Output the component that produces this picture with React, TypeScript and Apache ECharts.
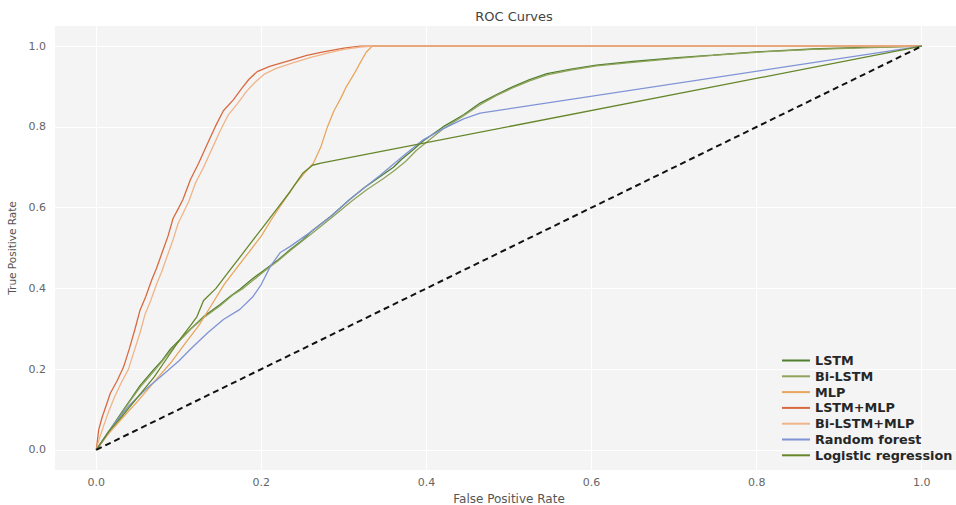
import React, { useEffect, useRef } from "react";
import * as echarts from "echarts";

const tickValues = [0, 0.2, 0.4, 0.6, 0.8, 1.0];

const seriesNames = [
  "LSTM",
  "Bi-LSTM",
  "MLP",
  "LSTM+MLP",
  "Bi-LSTM+MLP",
  "Random forest",
  "Logistic regression",
];

const lstm: number[][] = [
  [0, 0], [0.01, 0.03], [0.02, 0.06], [0.03, 0.09], [0.04, 0.12], [0.053, 0.159], [0.07, 0.2],
  [0.08, 0.222], [0.09, 0.25], [0.1, 0.27], [0.114, 0.299], [0.13, 0.33], [0.15, 0.36],
  [0.162, 0.38], [0.174, 0.398], [0.19, 0.425], [0.2, 0.44], [0.22, 0.47], [0.235, 0.496],
  [0.25, 0.52], [0.26, 0.54], [0.285, 0.58], [0.307, 0.62], [0.325, 0.65], [0.344, 0.677],
  [0.36, 0.70], [0.37, 0.72], [0.385, 0.745], [0.396, 0.765], [0.42, 0.8], [0.445, 0.83],
  [0.465, 0.859], [0.485, 0.88], [0.505, 0.9], [0.525, 0.917], [0.546, 0.932], [0.575, 0.943],
  [0.606, 0.953], [0.65, 0.962], [0.7, 0.971], [0.747, 0.978], [0.8, 0.986], [0.868, 0.993],
  [0.93, 0.997], [1, 1],
];

const biLstm: number[][] = [
  [0, 0], [0.01, 0.028], [0.02, 0.058], [0.03, 0.088], [0.04, 0.118], [0.055, 0.16], [0.07, 0.195],
  [0.08, 0.22], [0.09, 0.245], [0.1, 0.268], [0.115, 0.3], [0.13, 0.327], [0.15, 0.357],
  [0.165, 0.383], [0.178, 0.4], [0.19, 0.42], [0.205, 0.445], [0.22, 0.468], [0.237, 0.497],
  [0.25, 0.518], [0.265, 0.542], [0.288, 0.58], [0.31, 0.617], [0.328, 0.645], [0.348, 0.672],
  [0.362, 0.693], [0.375, 0.715], [0.388, 0.742], [0.4, 0.762], [0.42, 0.795], [0.445, 0.828],
  [0.465, 0.855], [0.485, 0.878], [0.505, 0.897], [0.525, 0.914], [0.546, 0.929], [0.575, 0.941],
  [0.606, 0.951], [0.65, 0.96], [0.7, 0.969], [0.747, 0.977], [0.8, 0.985], [0.868, 0.992],
  [0.93, 0.996], [1, 1],
];

const mlp: number[][] = [
  [0, 0], [0.015, 0.04], [0.03, 0.075], [0.05, 0.12], [0.073, 0.175], [0.09, 0.215], [0.11, 0.27],
  [0.125, 0.31], [0.14, 0.36], [0.155, 0.41], [0.17, 0.45], [0.185, 0.49], [0.2, 0.53],
  [0.212, 0.57], [0.225, 0.61], [0.24, 0.655], [0.252, 0.685], [0.263, 0.71], [0.272, 0.75],
  [0.28, 0.8], [0.288, 0.84], [0.296, 0.87], [0.303, 0.9], [0.312, 0.93], [0.32, 0.96],
  [0.327, 0.985], [0.334, 1.0], [1, 1],
];

const lstmMlp: number[][] = [
  [0, 0], [0.003, 0.05], [0.007, 0.08], [0.012, 0.11], [0.017, 0.14], [0.025, 0.17],
  [0.033, 0.205], [0.04, 0.25], [0.047, 0.3], [0.053, 0.346], [0.06, 0.38], [0.067, 0.42],
  [0.073, 0.45], [0.08, 0.49], [0.087, 0.53], [0.093, 0.573], [0.1, 0.6], [0.105, 0.62],
  [0.114, 0.669], [0.124, 0.71], [0.134, 0.755], [0.144, 0.8], [0.154, 0.84], [0.166, 0.867],
  [0.176, 0.895], [0.185, 0.918], [0.195, 0.937], [0.21, 0.95], [0.235, 0.965], [0.255, 0.977],
  [0.275, 0.986], [0.3, 0.995], [0.32, 1.0], [0.335, 1.0], [1, 1],
];

const biLstmMlp: number[][] = [
  [0, 0], [0.004, 0.03], [0.009, 0.06], [0.015, 0.095], [0.022, 0.13], [0.03, 0.165],
  [0.039, 0.2], [0.046, 0.245], [0.053, 0.29], [0.059, 0.335], [0.066, 0.37], [0.073, 0.41],
  [0.079, 0.44], [0.086, 0.48], [0.093, 0.52], [0.099, 0.56], [0.106, 0.59], [0.112, 0.615],
  [0.12, 0.66], [0.13, 0.7], [0.14, 0.745], [0.15, 0.79], [0.16, 0.83], [0.172, 0.86],
  [0.182, 0.888], [0.192, 0.91], [0.203, 0.93], [0.218, 0.945], [0.24, 0.96], [0.26, 0.972],
  [0.28, 0.983], [0.3, 0.992], [0.32, 0.998], [0.335, 1.0], [1, 1],
];

const randomForest: number[][] = [
  [0, 0], [0.02, 0.06], [0.04, 0.11], [0.06, 0.15], [0.08, 0.185], [0.1, 0.22], [0.114, 0.249],
  [0.135, 0.29], [0.154, 0.323], [0.174, 0.348], [0.19, 0.38], [0.2, 0.41], [0.211, 0.455],
  [0.223, 0.489], [0.235, 0.504], [0.26, 0.54], [0.285, 0.58], [0.307, 0.62], [0.325, 0.65],
  [0.344, 0.68], [0.37, 0.725], [0.396, 0.768], [0.42, 0.795], [0.445, 0.82], [0.465, 0.834],
  [1, 1],
];

const logisticRegression: number[][] = [
  [0, 0], [0.015, 0.045], [0.03, 0.08], [0.05, 0.13], [0.07, 0.18], [0.085, 0.225], [0.1, 0.27],
  [0.115, 0.31], [0.122, 0.33], [0.13, 0.37], [0.145, 0.4], [0.16, 0.44], [0.175, 0.48],
  [0.19, 0.52], [0.205, 0.56], [0.22, 0.6], [0.235, 0.64], [0.25, 0.685], [0.262, 0.705],
  [0.272, 0.71], [1, 1],
];

const chance: number[][] = [[0, 0], [1, 1]];

const seriesData = [lstm, biLstm, mlp, lstmMlp, biLstmMlp, randomForest, logisticRegression];
const seriesColors = ["#4f7f2f", "#8fa35a", "#e8a65c", "#d8693f", "#f0b488", "#7f93d6", "#66862a"];

export default function App() {
  const ref = useRef<HTMLDivElement>(null);
  useEffect(() => {
    if (!ref.current) return;
    const chart = echarts.init(ref.current, undefined, { renderer: "svg" });
    const font = "DejaVu Sans";
    const lines = seriesNames.map((name, i) => ({
      name,
      type: "line",
      data: seriesData[i],
      symbol: "none",
      smooth: false,
      lineStyle: { color: seriesColors[i], width: 1.3 },
      itemStyle: { color: seriesColors[i] },
      z: 3,
    }));
    chart.setOption({
      animation: false,
      title: {
        text: "ROC Curves",
        left: 509,
        textAlign: "center",
        top: 5,
        textStyle: { fontFamily: font, fontSize: 13, fontWeight: "normal", color: "#444" },
      },
      grid: {
        left: 55,
        top: 26,
        width: 908,
        height: 444,
        outerBoundsMode: "none",
        containLabel: false,
        show: true,
        backgroundColor: "#f4f4f4",
        borderWidth: 0,
      },
      legend: {
        data: seriesNames,
        orient: "vertical",
        left: 777,
        top: 349,
        icon: "rect",
        itemWidth: 28,
        itemHeight: 2,
        itemGap: 2.8,
        textStyle: { fontFamily: font, fontSize: 12.8, lineHeight: 13, fontWeight: "bold", color: "#262626" },
      },
      xAxis: {
        type: "value",
        min: -0.05,
        max: 1.05,
        name: "False Positive Rate",
        nameLocation: "middle",
        nameGap: 17,
        nameTextStyle: { fontFamily: font, fontSize: 12, color: "#555" },
        axisLine: { show: false },
        axisTick: { show: false, customValues: tickValues },
        axisLabel: {
          customValues: tickValues,
          margin: 7,
          fontFamily: font,
          fontSize: 11,
          color: "#666",
          formatter: (v: number) => v.toFixed(1),
        },
        splitLine: { show: true, lineStyle: { color: "#ffffff", width: 1 } },
      },
      yAxis: {
        type: "value",
        min: -0.05,
        max: 1.05,
        name: "True Positive Rate",
        nameLocation: "middle",
        nameGap: 32,
        nameTextStyle: { fontFamily: font, fontSize: 10.5, color: "#555" },
        axisLine: { show: false },
        axisTick: { show: false, customValues: tickValues },
        axisLabel: {
          customValues: tickValues,
          margin: 9,
          fontFamily: font,
          fontSize: 11,
          color: "#666",
          formatter: (v: number) => v.toFixed(1),
        },
        splitLine: { show: true, lineStyle: { color: "#ffffff", width: 1 } },
      },
      series: [
        ...lines,
        {
          name: "chance",
          type: "line",
          data: chance,
          symbol: "none",
          lineStyle: { color: "#111", width: 2, type: [6, 4] },
          z: 4,
        },
      ],
    });
    return () => chart.dispose();
  }, []);
  return <div ref={ref} style={{ width: 956, height: 505, position: "absolute", left: 0, top: 0 }} />;
}
